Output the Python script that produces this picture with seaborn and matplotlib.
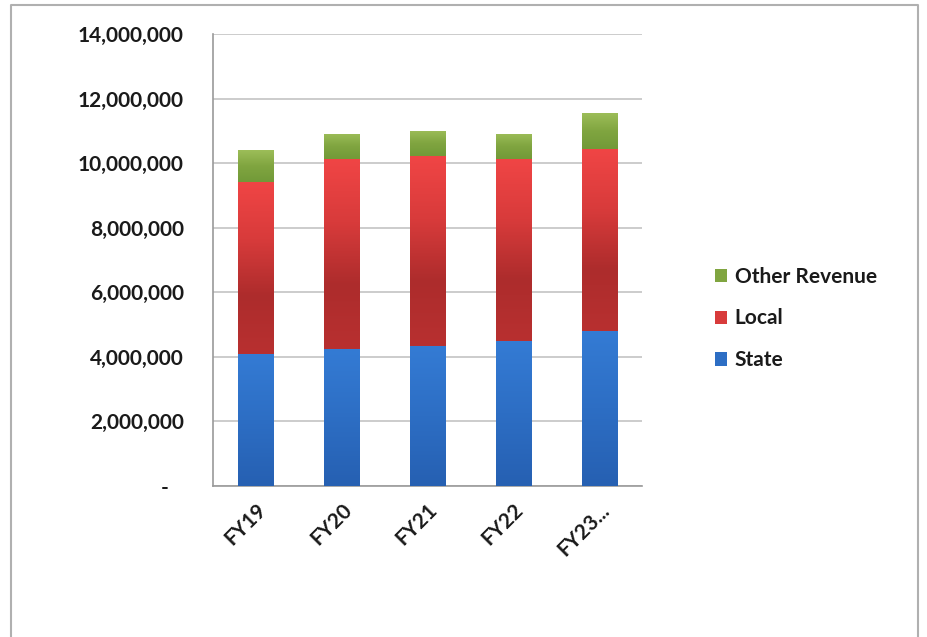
import numpy as np
import pandas as pd
import matplotlib
matplotlib.use("Agg")
import matplotlib.pyplot as plt
import seaborn as sns
from matplotlib.ticker import FuncFormatter, FixedLocator
from matplotlib.colors import LinearSegmentedColormap
from matplotlib.patches import Rectangle, Patch
from matplotlib.lines import Line2D

years = ["FY19", "FY20", "FY21", "FY22", "FY23..."]
state = [4080000, 4230000, 4330000, 4480000, 4790000]
local = [5340000, 5890000, 5890000, 5640000, 5640000]
other = [980000, 780000, 780000, 780000, 1110000]
series_names = ["Other Revenue", "Local", "State"]

sns.set_theme(style="white")
plt.rcParams['font.family'] = ['Lato', 'DejaVu Sans']

df = pd.DataFrame({"year": years, "State": state, "Local": local, "Other": other})
df["c_state"] = df["State"]
df["c_local"] = df["State"] + df["Local"]
df["c_other"] = df["c_local"] + df["Other"]

fig = plt.figure(figsize=(9.27, 6.37), dpi=100)
ax = fig.add_axes([0.2298, 0.237, 0.4628, 0.7096])

cols = {"c_other": "#86ac45", "c_local": "#e03c3c", "c_state": "#2f6fc8"}
grads = {
    "c_other": ["#9cbd58", "#80a540", "#729a38"],
    "c_local": ["#f04545", "#d83b3b", "#ad2c2c", "#b83030"],
    "c_state": ["#347bd4", "#2d6ec4", "#2660b2"],
}
for key in ["c_other", "c_local", "c_state"]:
    sns.barplot(data=df, x="year", y=key, color=cols[key], width=0.41,
                saturation=1, ax=ax, zorder=3, edgecolor="none")

n = len(years)
patch_groups = [ax.patches[i*n:(i+1)*n] for i in range(3)]
bottoms = {"c_other": df["c_local"].values, "c_local": df["c_state"].values,
           "c_state": np.zeros(n)}
for key, patches in zip(["c_other", "c_local", "c_state"], patch_groups):
    cmap = LinearSegmentedColormap.from_list(key, grads[key])
    for j, p in enumerate(patches):
        x0 = p.get_x(); w = p.get_width(); top = p.get_height()
        bot = bottoms[key][j]
        g = np.linspace(0, 1, 64).reshape(-1, 1)
        im = ax.imshow(g, cmap=cmap, aspect="auto", origin="upper",
                       extent=[x0, x0 + w, bot, top], zorder=4)
        clip = Rectangle((x0, bot), w, top - bot, transform=ax.transData)
        im.set_clip_path(clip)

ax.set_xlim(-0.5, 4.5)
ax.set_ylim(0, 14000000)
ax.set_yticks(np.arange(0, 14000001, 2000000))
ax.yaxis.set_major_formatter(FuncFormatter(lambda v, p: "-   " if v == 0 else f"{int(v):,}"))
ax.grid(axis="y", color="#c4c4c4", linewidth=1.2, zorder=0)
ax.set_axisbelow(True)
for s in ["top", "right"]:
    ax.spines[s].set_visible(False)
for s in ["left", "bottom"]:
    ax.spines[s].set_color("#9a9a9a")
    ax.spines[s].set_linewidth(1.2)

FS = 15
ax.set_xlabel(""); ax.set_ylabel("")
ax.tick_params(axis="y", which="major", length=5, width=1, color="#9a9a9a",
               labelsize=FS, pad=16, labelcolor="#1a1a1a")
ax.tick_params(axis="x", which="major", length=0, labelsize=FS, pad=10, labelcolor="#1a1a1a")
ax.xaxis.set_minor_locator(FixedLocator(np.arange(-0.5, 4.6, 1)))
ax.tick_params(axis="x", which="minor", length=6, width=1, color="#9a9a9a")
ax.set_xticks(range(n))
ax.set_xticklabels(years)
for lab in ax.get_xticklabels():
    lab.set_rotation(45)
    lab.set_ha("right")
    lab.set_rotation_mode("anchor")
for lab in ax.get_yticklabels() + ax.get_xticklabels():
    lab.set_fontweight("bold")

handles = [Patch(facecolor=grads["c_other"][1], edgecolor="none"),
           Patch(facecolor=grads["c_local"][1], edgecolor="none"),
           Patch(facecolor=grads["c_state"][1], edgecolor="none")]
leg = fig.legend(handles, series_names, loc="center left", bbox_to_anchor=(0.751, 0.50),
                 frameon=False, handlelength=0.6, handleheight=0.6,
                 handletextpad=0.35, labelspacing=1.05, prop={"weight": "bold", "size": FS})
for t in leg.get_texts():
    t.set_color("#1a1a1a")

fig.add_artist(Line2D([11/927, 11/927, 918/927, 918/927], [0, 1 - 5/637, 1 - 5/637, 0],
                      transform=fig.transFigure, color="#b0b0b0", linewidth=1.5))

fig.savefig("out.png", dpi=100, facecolor="white")
